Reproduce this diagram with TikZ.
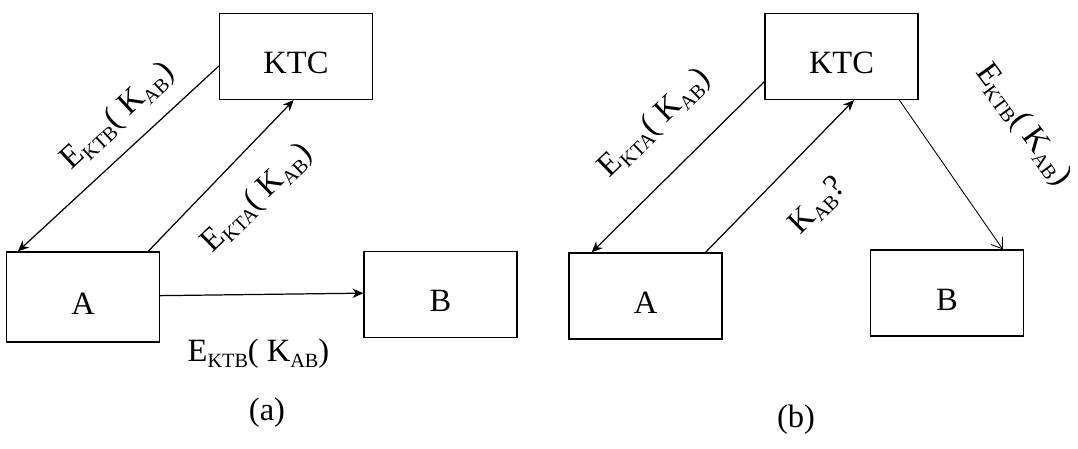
\documentclass[tikz,border=0pt]{standalone}
\usepackage{fontspec}
\setmainfont{Liberation Serif}
\usetikzlibrary{arrows.meta}
\newcommand{\ksub}[1]{\raisebox{-3.2pt}{\fontsize{11.5}{13}\selectfont #1}}

\tikzset{
	entity/.style={draw, line width=0.7pt, minimum width=3.06cm, minimum height=1.72cm, inner sep=0pt, text height=0.70cm, text depth=0pt, font=\fontsize{18.5}{21}\selectfont},
	msg/.style={line width=0.7pt, -{Stealth[length=2.2mm,width=1.9mm]}},
	msgopen/.style={line width=0.5pt, -{Straight Barb[length=2mm,width=2.8mm]}},
	lbl/.style={font=\fontsize{18.5}{21}\selectfont, inner sep=1pt},
}

\begin{document}
\begin{tikzpicture}[x=0.02cm, y=-0.02cm]
	%%%%% START %%%%%
	\useasboundingbox (0,0) rectangle (1078,449);
	
	% (a)
	\node[entity] (ktcA) at (296,56.5) {KTC};
	\node[entity, minimum height=1.8cm] (alA) at (83,297) {A};
	\node[entity] (boA) at (440.5,294.5) {B};
	
	\draw[msg] (ktcA.187) -- (alA.145);
	\draw[msg] (alA.35.5) -- (ktcA.267);
	\draw[msg] (alA.1.5) -- (boA.179);
	
	\node[lbl, rotate=43] (ekA) at (118,117) {E\ksub{KTB}( K\ksub{AB})};
	\node[lbl, rotate=44] (etA) at (257.5,198.5) {E\ksub{KTA}( K\ksub{AB})};
	\node[lbl] (ebA) at (258.5,354) {E\ksub{KTB}( K\ksub{AB})};
	\node[lbl] (capA) at (267,413) {(a)};
	
	% (b)
	\node[entity] (ktcB) at (841.5,56.5) {KTC};
	\node[entity] (alB) at (645.5,296) {A};
	\node[entity] (boB) at (947,293) {B};
	
	\draw[msg] (ktcB.198.6) -- (alB.141.2);
	\draw[msg] (alB.36.8) -- (ktcB.286.4);
	\draw[msgopen] (ktcB.323) -- (boB.38.5);
	
	\node[lbl, rotate=44] (etB) at (655,123.5) {E\ksub{KTA}( K\ksub{AB})};
	\node[lbl, rotate=45] (kqB) at (818,206.5) {K\ksub{AB}?};
	\node[lbl, rotate=-54] (ebB) at (1023,125) {E\ksub{KTB}( K\ksub{AB})};
	\node[lbl] (capB) at (796,420) {(b)};
	%%%%% END %%%%%
\end{tikzpicture}
\end{document}
